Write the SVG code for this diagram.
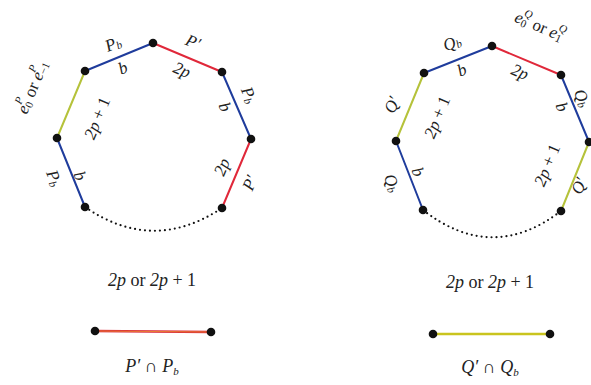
<svg xmlns="http://www.w3.org/2000/svg" width="591" height="385" viewBox="0 0 591 385">
<style>
.e{stroke-width:2;fill:none;stroke-linecap:round}
.bl{stroke:#1f3c9c}
.rd{stroke:#e0283a}
.ol{stroke:#b5c23a}
.dot{stroke:#111;stroke-width:2.2;fill:none;stroke-dasharray:0 5;stroke-linecap:round}
.v{fill:#111}
text{font-family:"Liberation Serif","DejaVu Serif",serif;font-size:17px;fill:#222}
.m{font-style:italic}
.s{font-size:11px}
.c{text-anchor:middle;dominant-baseline:central}
.big{font-size:18px;text-anchor:middle}
</style>
<g id="connectors">
<line class="e bl" x1="85" y1="71" x2="153" y2="43"/>
<line class="e rd" x1="153" y1="43" x2="222" y2="72"/>
<line class="e ol" x1="85" y1="71" x2="57" y2="138"/>
<line class="e bl" x1="57" y1="138" x2="85" y2="207"/>
<line class="e bl" x1="222" y1="72" x2="251" y2="139"/>
<line class="e rd" x1="251" y1="139" x2="222" y2="208"/>
<path class="dot" d="M85 207 Q153 254 222 208"/>
<line class="e bl" x1="424" y1="73" x2="492" y2="46"/>
<line class="e rd" x1="492" y1="46" x2="561" y2="75"/>
<line class="e ol" x1="424" y1="73" x2="396" y2="141"/>
<line class="e bl" x1="396" y1="141" x2="423" y2="210"/>
<line class="e bl" x1="561" y1="75" x2="589" y2="142"/>
<line class="e ol" x1="589" y1="142" x2="561" y2="211"/>
<path class="dot" d="M423 210 Q492 264 561 211"/>
<line x1="95" y1="331" x2="211" y2="332" stroke="#d8283a" stroke-width="2.5"/>
<line x1="95" y1="331" x2="211" y2="332" stroke="#f0a030" stroke-width="0.7"/>
<line x1="433" y1="334" x2="550" y2="334" stroke="#c9c41e" stroke-width="2.5"/>
</g>
<g id="nodesP">
<circle class="v" cx="153" cy="43" r="4.3"/>
<circle class="v" cx="85" cy="71" r="4.3"/>
<circle class="v" cx="57" cy="138" r="4.3"/>
<circle class="v" cx="85" cy="207" r="4.3"/>
<circle class="v" cx="222" cy="72" r="4.3"/>
<circle class="v" cx="251" cy="139" r="4.3"/>
<circle class="v" cx="222" cy="208" r="4.3"/>
<circle class="v" cx="95" cy="331" r="4.3"/>
<circle class="v" cx="211" cy="332" r="4.3"/>
</g>
<g id="nodesQ">
<circle class="v" cx="492" cy="46" r="4.3"/>
<circle class="v" cx="424" cy="73" r="4.3"/>
<circle class="v" cx="396" cy="141" r="4.3"/>
<circle class="v" cx="423" cy="210" r="4.3"/>
<circle class="v" cx="561" cy="75" r="4.3"/>
<circle class="v" cx="589" cy="142" r="4.3"/>
<circle class="v" cx="561" cy="211" r="4.3"/>
<circle class="v" cx="433" cy="334" r="4.3"/>
<circle class="v" cx="550" cy="334" r="4.3"/>
</g>
<g id="labelsP">
<text class="c m" transform="translate(113,44) rotate(-22)">P<tspan class="s" dy="3">b</tspan></text>
<text class="c m" transform="translate(123,68) rotate(-22)">b</text>
<text class="c m" transform="translate(193,42) rotate(23)">P′</text>
<text class="c m" transform="translate(182,70) rotate(23)">2p</text>
<text class="c" transform="translate(32,87) rotate(-67)"><tspan class="m">e</tspan><tspan class="s" dy="4">0</tspan><tspan class="s m" dx="-6" dy="-11">P</tspan><tspan dy="7"> or </tspan><tspan class="m">e</tspan><tspan class="s" dy="4">−1</tspan><tspan class="s m" dx="-14" dy="-11">P</tspan></text>
<text class="c" transform="translate(97,118) rotate(-67)"><tspan class="m">2p</tspan> + 1</text>
<text class="c m" transform="translate(54,178) rotate(68)">P<tspan class="s" dy="3">b</tspan></text>
<text class="c m" transform="translate(80,176) rotate(68)">b</text>
<text class="c m" transform="translate(249,95) rotate(67)">P<tspan class="s" dy="3">b</tspan></text>
<text class="c m" transform="translate(225,107) rotate(67)">b</text>
<text class="c m" transform="translate(222,167) rotate(-67)">2p</text>
<text class="c m" transform="translate(250,183) rotate(-67)">P′</text>
<text x="152" y="286" class="big"><tspan class="m">2p</tspan> or <tspan class="m">2p</tspan> + 1</text>
<text class="m big" x="152" y="372">P′ <tspan style="font-style:normal">∩</tspan> P<tspan class="s" dy="3">b</tspan></text>
</g>
<g id="labelsQ">
<text class="c m" transform="translate(452,43) rotate(-22)">Q<tspan class="s" dy="3">b</tspan></text>
<text class="c m" transform="translate(462,70) rotate(-22)">b</text>
<text class="c" transform="translate(540,26) rotate(23)"><tspan class="m">e</tspan><tspan class="s" dy="4">0</tspan><tspan class="s m" dx="-6" dy="-11">Q</tspan><tspan dy="7"> or </tspan><tspan class="m">e</tspan><tspan class="s" dy="4">1</tspan><tspan class="s m" dx="-6" dy="-11">Q</tspan></text>
<text class="c m" transform="translate(520,72) rotate(23)">2p</text>
<text class="c m" transform="translate(392,105) rotate(-67)">Q′</text>
<text class="c" transform="translate(437,117) rotate(-67)"><tspan class="m">2p</tspan> + 1</text>
<text class="c m" transform="translate(392,183) rotate(68)">Q<tspan class="s" dy="3">b</tspan></text>
<text class="c m" transform="translate(418,172) rotate(68)">b</text>
<text class="c m" transform="translate(582,98) rotate(67)">Q<tspan class="s" dy="3">b</tspan></text>
<text class="c m" transform="translate(562,107) rotate(67)">b</text>
<text class="c" transform="translate(547,165) rotate(-67)"><tspan class="m">2p</tspan> + 1</text>
<text class="c m" transform="translate(579,186) rotate(-67)">Q′</text>
<text x="490" y="288" class="big"><tspan class="m">2p</tspan> or <tspan class="m">2p</tspan> + 1</text>
<text class="m big" x="490" y="373">Q′ <tspan style="font-style:normal">∩</tspan> Q<tspan class="s" dy="3">b</tspan></text>
</g>
</svg>
